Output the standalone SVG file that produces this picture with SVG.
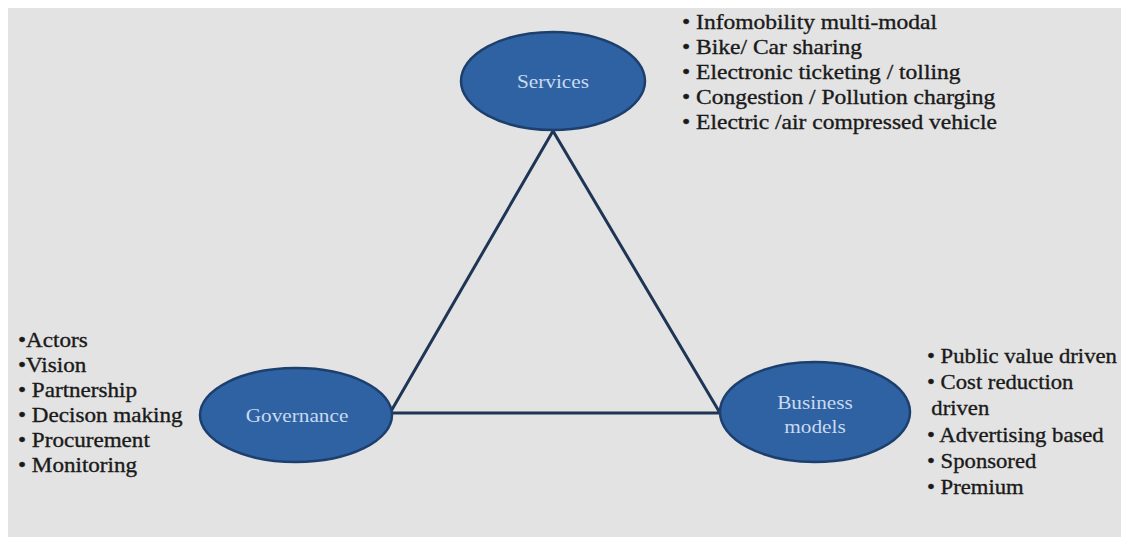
<svg xmlns="http://www.w3.org/2000/svg" width="1121" height="537" viewBox="0 0 1121 537">
<style>
.node{fill:#2f62a3;stroke:#1d3f6e;stroke-width:2.5}
.lbl{font-family:"Liberation Serif",serif;font-size:19px;fill:#c9daf0;text-anchor:middle}
.lst{font-family:"Liberation Serif",serif;font-size:21px;fill:#1a1a1a;stroke:#1a1a1a;stroke-width:0.35}
.edge{stroke:#1e3555;stroke-width:3;fill:none}
</style>
<rect x="0" y="0" width="1121" height="537" fill="#ffffff"/>
<rect x="8" y="8" width="1113" height="529" fill="#e3e3e3"/>
<g id="connectors">
<path class="edge" d="M553,131 L390,413 L720,413 Z"/>
</g>
<g id="services">
<ellipse class="node" cx="553" cy="81" rx="92" ry="49"/>
<text class="lbl" transform="translate(553,88) scale(1.12,1)">Services</text>
</g>
<g id="governance">
<ellipse class="node" cx="296" cy="415" rx="96" ry="47"/>
<text class="lbl" transform="translate(297,422) scale(1.12,1)">Governance</text>
</g>
<g id="business">
<ellipse class="node" cx="815" cy="412" rx="95" ry="50"/>
<text class="lbl" transform="translate(815,409) scale(1.12,1)">Business</text>
<text class="lbl" transform="translate(815,433) scale(1.12,1)">models</text>
</g>
<g id="services-list" class="lst" transform="translate(682,0) scale(1.12,1)">
<text x="0" y="29">• Infomobility multi-modal</text>
<text x="0" y="54">• Bike/ Car sharing</text>
<text x="0" y="79">• Electronic ticketing / tolling</text>
<text x="0" y="104">• Congestion / Pollution charging</text>
<text x="0" y="129">• Electric /air compressed vehicle</text>
</g>
<g id="governance-list" class="lst" transform="translate(18,0) scale(1.1,1)">
<text x="0" y="347">•Actors</text>
<text x="0" y="372">•Vision</text>
<text x="0" y="397">• Partnership</text>
<text x="0" y="422">• Decison making</text>
<text x="0" y="447">• Procurement</text>
<text x="0" y="472">• Monitoring</text>
</g>
<g id="business-list" class="lst" transform="translate(927,0) scale(1.08,1)">
<text x="0" y="363">• Public value driven</text>
<text x="0" y="389">• Cost reduction</text>
<text x="4" y="415">driven</text>
<text x="0" y="442">• Advertising based</text>
<text x="0" y="468">• Sponsored</text>
<text x="0" y="494">• Premium</text>
</g>
</svg>
